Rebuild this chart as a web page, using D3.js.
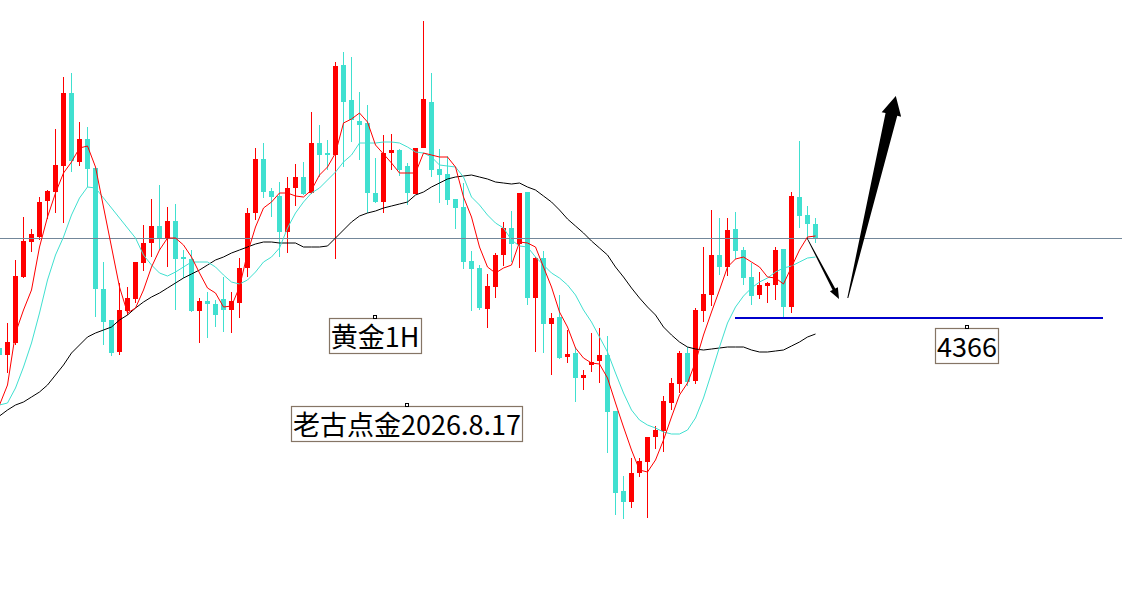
<!DOCTYPE html>
<html>
<head>
<meta charset="utf-8">
<script src="https://cdn.jsdelivr.net/npm/d3@7"></script>
<style>
  html, body { margin: 0; padding: 0; background: #fff; overflow: hidden; }
</style>
</head>
<body>
<div class="gold-chart"></div>
<script>
// gold 1H candles
const opens = [
    4335,4328,4340,4406,4441,4446,4482,4491,4517,4590,
    4521,4544,4515,4394,4363,4331,4372,4384,4420,4440,
    4457,4445,4462,4426,4424,4372,4382,4379,4384,4373,
    4380,4415,4470,4524,4492,4487,4451,4495,4506,4490,
    4540,4530,4528,4618,4583,4562,4560,4490,4481,4530,
    4533,4517,4489,4535,4581,4514,4509,4484,4476,4422,
    4415,4374,4396,4428,4455,4439,4491,4385,4425,4359,
    4366,4326,4330,4305,4318,4322,4328,4272,4192,4181,
    4210,4221,4246,4252,4280,4299,4330,4302,4372,4388,
    4428,4416,4454,4433,4406,4388,4397,4398,4434,4376,
    4486,4468,4459
]
const highs = [
    4338,4360,4423,4466,4454,4486,4493,4554,4606,4610,
    4561,4556,4515,4421,4363,4400,4396,4421,4458,4484,
    4498,4476,4479,4433,4433,4385,4391,4383,4406,4391,
    4425,4475,4535,4540,4495,4501,4506,4519,4521,4571,
    4558,4543,4621,4631,4626,4591,4578,4525,4548,4549,
    4534,4520,4535,4662,4610,4534,4527,4484,4500,4432,
    4418,4409,4430,4461,4472,4490,4491,4426,4432,4370,
    4388,4353,4336,4313,4350,4355,4347,4272,4207,4225,
    4225,4246,4257,4287,4305,4332,4336,4375,4436,4473,
    4465,4465,4471,4436,4420,4411,4401,4436,4434,4491,
    4542,4477,4465
]
const lows = [
    4325,4310,4338,4405,4431,4443,4464,4470,4460,4511,
    4517,4496,4366,4338,4327,4328,4368,4380,4412,4426,
    4433,4416,4373,4405,4371,4340,4345,4356,4351,4350,
    4365,4406,4463,4485,4466,4426,4430,4477,4488,4489,
    4506,4513,4424,4516,4541,4523,4470,4480,4470,4513,
    4507,4478,4489,4535,4506,4480,4478,4454,4414,4372,
    4373,4355,4385,4417,4421,4415,4378,4331,4330,4308,
    4324,4320,4281,4293,4311,4300,4230,4168,4164,4175,
    4206,4165,4234,4231,4273,4290,4297,4299,4361,4377,
    4408,4407,4424,4398,4378,4384,4380,4383,4365,4370,
    4455,4445,4440
]
const closes = [
    4328,4341,4407,4442,4449,4481,4492,4518,4590,4522,
    4544,4514,4394,4361,4330,4373,4385,4421,4440,4457,
    4445,4462,4424,4424,4372,4382,4379,4368,4373,4382,
    4415,4470,4524,4491,4486,4451,4495,4506,4489,4540,
    4528,4528,4617,4581,4563,4558,4490,4481,4530,4533,
    4513,4490,4535,4584,4513,4508,4483,4475,4421,4414,
    4375,4397,4428,4455,4439,4490,4385,4425,4359,4365,
    4325,4329,4305,4308,4321,4328,4271,4190,4181,4210,
    4222,4246,4253,4282,4300,4330,4301,4373,4389,4428,
    4416,4453,4432,4405,4387,4398,4400,4433,4376,4487,
    4467,4459,4445
]

// moving averages as drawn (red fast, turquoise middle, black slow)
const maFast = [
    4278,4298,4350,4373,4393,4436,4466,4490,4510,4521,
    4535,4537,4516,4476,4436,4396,4370,4375,4393,4416,
    4433,4445,4445,4438,4426,4410,4395,4390,4376,4377,
    4396,4430,4456,4475,4481,4490,4490,4487,4486,4493,
    4508,4516,4530,4560,4564,4570,4561,4538,4529,4520,
    4510,4510,4510,4530,4528,4526,4526,4516,4486,4466,
    4436,4416,4410,4415,4418,4441,4440,4436,4416,4396,
    4371,4356,4335,4325,4320,4319,4305,4280,4256,4233,
    4213,4211,4223,4243,4266,4288,4300,4321,4348,4371,
    4393,4416,4424,4426,4421,4416,4406,4405,4399,4416,
    4433,4446,4447
]
const maMid = [
    4278,4280,4295,4316,4340,4370,4403,4428,4446,4468,
    4485,4496,4495,4485,4475,4465,4455,4445,4428,4418,
    4410,4407,4411,4416,4421,4421,4421,4416,4408,4401,
    4399,4403,4411,4421,4426,4435,4455,4470,4481,4490,
    4495,4503,4511,4521,4528,4540,4540,4540,4541,4541,
    4540,4536,4531,4530,4526,4518,4517,4516,4506,4486,
    4478,4468,4460,4455,4443,4437,4436,4426,4418,4410,
    4405,4398,4388,4373,4361,4346,4331,4310,4290,4273,
    4263,4258,4255,4251,4249,4249,4253,4265,4285,4310,
    4336,4360,4376,4387,4395,4401,4405,4411,4415,4417,
    4421,4425,4426
]
const maSlow = [
    4267,4273,4278,4281,4286,4291,4298,4308,4318,4330,
    4338,4346,4350,4353,4356,4363,4368,4375,4381,4386,
    4390,4395,4400,4405,4409,4413,4418,4423,4426,4430,
    4433,4436,4439,4441,4441,4440,4440,4440,4436,4436,
    4436,4437,4445,4453,4461,4467,4470,4472,4475,4477,
    4479,4481,4488,4491,4496,4500,4504,4506,4507,4508,
    4506,4504,4501,4500,4499,4500,4496,4493,4487,4481,
    4473,4464,4457,4450,4442,4435,4428,4416,4406,4395,
    4385,4376,4368,4356,4348,4341,4336,4334,4333,4334,
    4335,4336,4336,4336,4333,4331,4331,4332,4333,4337,
    4341,4346,4349
]

// annotations
const priceLine = 4445
const supportLevel = 4366
const supportFrom = 92
const supportTo = 138
const labels = [
    {text: "黄金1H", i: 47, p: 4366},
    {text: "老古点金2026.8.17", i: 51, p: 4278},
    {text: "4366", i: 121, p: 4356}
]
const arrows = [
    {from: [101, 4445], to: [105, 4384], w0: 0.6, w1: 3, headLen: 11, headHalf: 4.5},
    {from: [106.1, 4385], to: [112.1, 4587], w0: 1, w1: 12, headLen: 19, headHalf: 10}
]

const width = 1122
const height = 606

const svg = d3.select(".gold-chart").append("svg")
    .attr("width", width)
    .attr("height", height)
    .attr("viewBox", [0, 0, width, height])
    .style("display", "block")
    .style("background", "#fff")

const x = d3.scaleLinear()
    .domain([0, opens.length - 1])
    .range([-1, 815])

const y = d3.scaleLinear()
    .domain([4683 - height, 4683])
    .range([height, 0])

const candles = opens.map((o, i) => ({
    i, o, h: highs[i], l: lows[i], c: closes[i], up: closes[i] >= o
}))

const upColor = "#ff0000"
const downColor = "#40e0d0"

const g = svg.append("g").attr("shape-rendering", "crispEdges")

g.selectAll("rect.wick")
    .data(candles)
    .join("rect")
    .attr("class", "wick")
    .attr("x", d => Math.round(x(d.i)))
    .attr("width", 1)
    .attr("y", d => y(d.h))
    .attr("height", d => Math.max(1, y(d.l) - y(d.h)))
    .attr("fill", d => d.up ? upColor : downColor)

g.selectAll("rect.body")
    .data(candles)
    .join("rect")
    .attr("class", "body")
    .attr("x", d => Math.round(x(d.i)) - 2)
    .attr("width", 5)
    .attr("y", d => y(Math.max(d.o, d.c)))
    .attr("height", d => Math.max(1, Math.abs(y(d.o) - y(d.c))))
    .attr("fill", d => d.up ? upColor : downColor)

// horizontal price line
svg.append("line")
    .attr("x1", 0).attr("x2", width)
    .attr("y1", y(priceLine) + 0.5).attr("y2", y(priceLine) + 0.5)
    .attr("stroke", "#73879a")
    .attr("stroke-width", 1)

const maLine = d3.line()
    .x((d, i) => Math.round(x(i)) + 0.5)
    .y(d => y(d))

const maSeries = [
    {values: maSlow, color: "#000000"},
    {values: maMid, color: "#40e0d0"},
    {values: maFast, color: "#ff0000"}
]

svg.append("g")
    .selectAll("path")
    .data(maSeries)
    .join("path")
    .attr("d", d => maLine(d.values))
    .attr("fill", "none")
    .attr("stroke", d => d.color)
    .attr("stroke-width", 1)

// support level
svg.append("line")
    .attr("x1", x(supportFrom)).attr("x2", x(supportTo))
    .attr("y1", y(supportLevel) + 1).attr("y2", y(supportLevel) + 1)
    .attr("stroke", "#0000cc")
    .attr("stroke-width", 2.2)

// tapered arrows
function arrowPoints(a) {
    const p0 = [x(a.from[0]), y(a.from[1])]
    const p1 = [x(a.to[0]), y(a.to[1])]
    const dx = p1[0] - p0[0], dy = p1[1] - p0[1]
    const len = Math.hypot(dx, dy)
    const ux = dx / len, uy = dy / len
    const nx = -uy, ny = ux
    const b = [p1[0] - ux * a.headLen, p1[1] - uy * a.headLen]
    return [
        [p0[0] + nx * a.w0 / 2, p0[1] + ny * a.w0 / 2],
        [b[0] + nx * a.w1 / 2, b[1] + ny * a.w1 / 2],
        [b[0] + nx * a.headHalf, b[1] + ny * a.headHalf],
        p1,
        [b[0] - nx * a.headHalf, b[1] - ny * a.headHalf],
        [b[0] - nx * a.w1 / 2, b[1] - ny * a.w1 / 2],
        [p0[0] - nx * a.w0 / 2, p0[1] - ny * a.w0 / 2]
    ]
}

svg.append("g")
    .selectAll("polygon")
    .data(arrows)
    .join("polygon")
    .attr("points", d => arrowPoints(d).map(p => p.join(",")).join(" "))
    .attr("fill", "#000")

// text labels with frames
const labelG = svg.append("g")
    .selectAll("g")
    .data(labels)
    .join("g")
    .attr("transform", d => `translate(${Math.round(x(d.i))},${y(d.p)})`)

labelG.append("text")
    .attr("text-anchor", "middle")
    .attr("y", 30)
    .attr("font-family", "'Noto Sans CJK SC', 'Noto Sans', sans-serif")
    .attr("font-size", 27)
    .attr("fill", "#000")
    .text(d => d.text)

labelG.each(function() {
    const grp = d3.select(this)
    const w = grp.select("text").node().getComputedTextLength()
    grp.insert("rect", "text")
        .attr("x", Math.round(-w / 2) - 1.5)
        .attr("y", 1.5)
        .attr("width", Math.round(w) + 3)
        .attr("height", 35)
        .attr("fill", "none")
        .attr("stroke", "#857565")
        .attr("stroke-width", 1.2)
    grp.append("rect")
        .attr("x", -1.5)
        .attr("y", -1.5)
        .attr("width", 3)
        .attr("height", 3)
        .attr("fill", "#fff")
        .attr("stroke", "#000")
        .attr("stroke-width", 1)
})
</script>
</body>
</html>
